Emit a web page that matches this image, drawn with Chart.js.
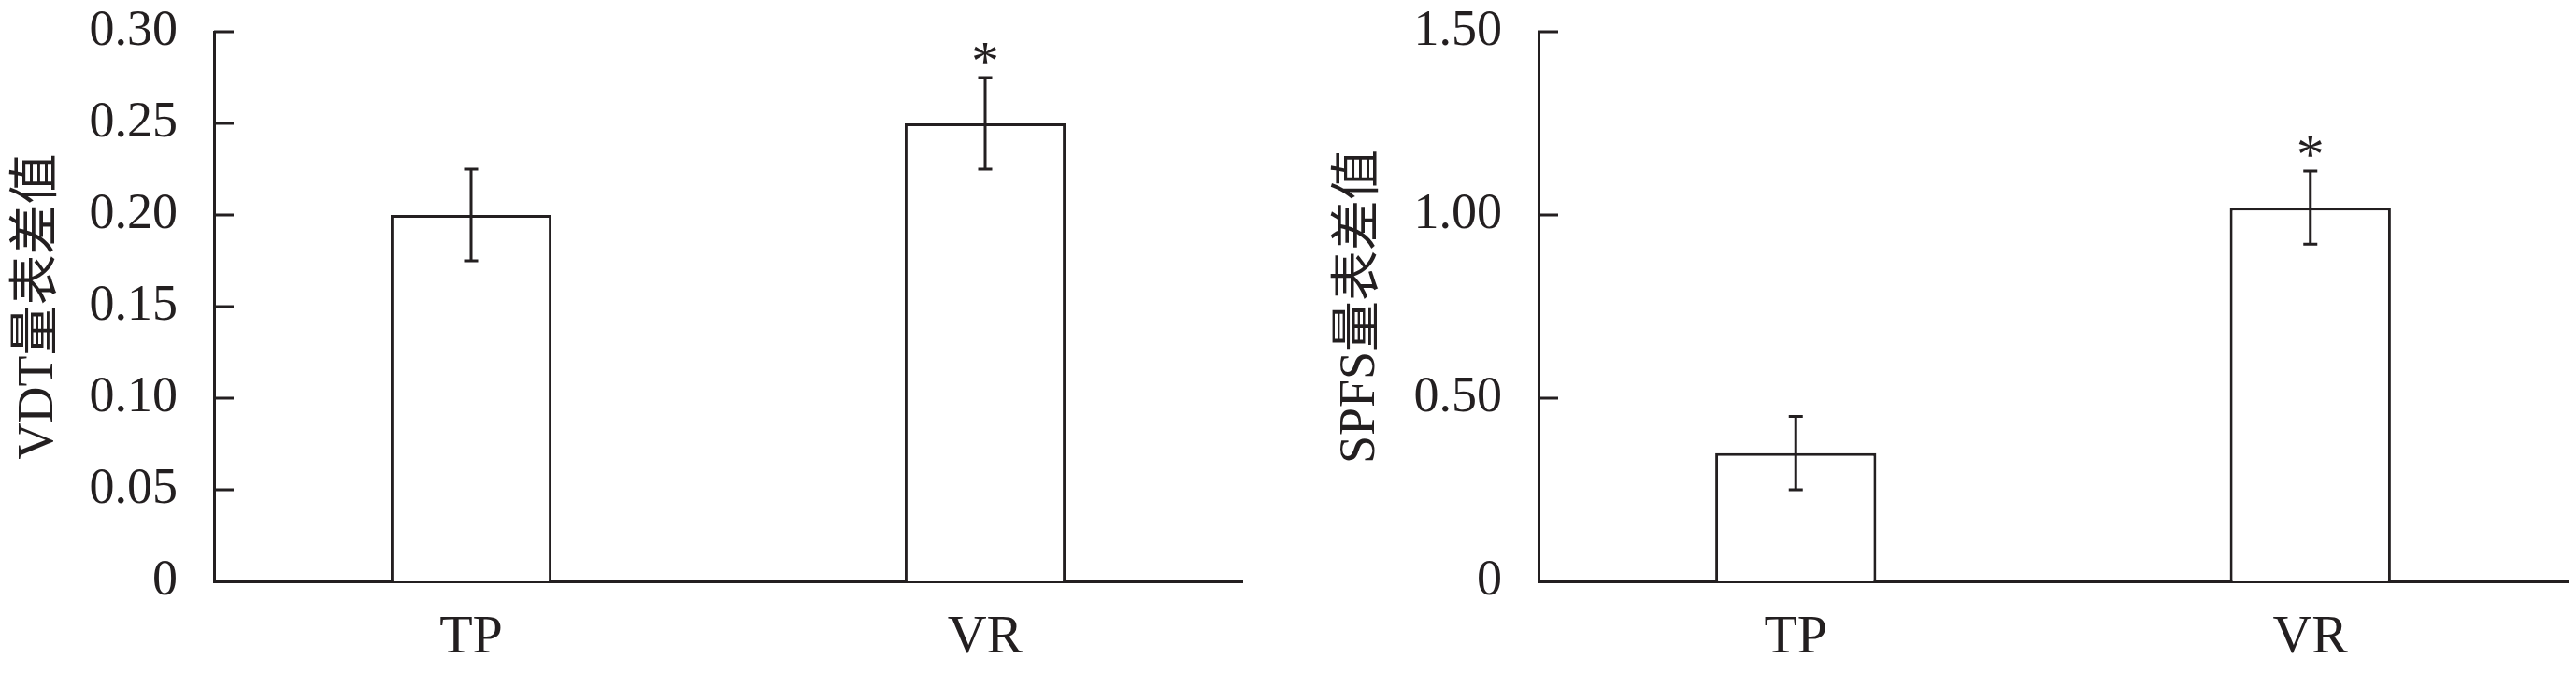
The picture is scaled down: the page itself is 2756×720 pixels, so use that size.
<!DOCTYPE html>
<html>
<head>
<meta charset="utf-8">
<script src="https://cdn.jsdelivr.net/npm/chart.js@4"></script>
<style>
  html, body { margin: 0; padding: 0; background: #fff; }
  #wrap { position: relative; width: 2756px; height: 720px; }
  .panel { position: absolute; top: 0; height: 720px; }
  #left { left: 0; width: 1378px; }
  #right { left: 1378px; width: 1378px; }
</style>
</head>
<body>
<div id="wrap">
  <div class="panel" id="left"><canvas id="vdtChart" width="1378" height="720"></canvas></div>
  <div class="panel" id="right"><canvas id="spfsChart" width="1378" height="720"></canvas></div>
</div>
<script>
// ---------- DATA ----------
const categories = ["TP", "VR"];

const vdtMeans = [0.20, 0.25];
const vdtErrors = [0.025, 0.025];
const vdtMarks = ["", "*"];

const spfsMeans = [0.35, 1.02];
const spfsErrors = [0.10, 0.10];
const spfsMarks = ["", "*"];

const INK = "#231f20";
const FONT = "'Liberation Serif', 'Noto Sans CJK SC', serif";
const LINE = 3;

// ---------- PLUGINS ----------
// ticks on the y axis point into the plot area
const innerTicks = {
  id: "innerTicks",
  afterDatasetsDraw(chart) {
    const { ctx, chartArea, scales } = chart;
    const y = scales.y;
    ctx.save();
    ctx.strokeStyle = INK;
    ctx.lineWidth = LINE;
    y.ticks.forEach((t, i) => {
      const py = y.getPixelForTick(i);
      ctx.beginPath();
      ctx.moveTo(chartArea.left, py);
      ctx.lineTo(chartArea.left + 21, py);
      ctx.stroke();
    });
    ctx.restore();
  }
};

// error bars + significance marks
const errorBars = {
  id: "errorBars",
  afterDatasetsDraw(chart, args, opts) {
    const { ctx, scales } = chart;
    const meta = chart.getDatasetMeta(0);
    const means = chart.data.datasets[0].data;
    ctx.save();
    ctx.strokeStyle = INK;
    ctx.fillStyle = INK;
    ctx.lineWidth = LINE;
    meta.data.forEach((bar, i) => {
      const x = bar.x;
      const top = scales.y.getPixelForValue(means[i] + opts.errors[i]);
      const bot = scales.y.getPixelForValue(means[i] - opts.errors[i]);
      ctx.beginPath();
      ctx.moveTo(x, top); ctx.lineTo(x, bot);
      ctx.moveTo(x - 7.5, top); ctx.lineTo(x + 7.5, top);
      ctx.moveTo(x - 7.5, bot); ctx.lineTo(x + 7.5, bot);
      ctx.stroke();
      if (opts.marks[i]) {
        ctx.font = "60px " + FONT;
        ctx.textAlign = "center";
        ctx.textBaseline = "alphabetic";
        ctx.fillText(opts.marks[i], x, top + 2);
      }
    });
    ctx.restore();
  }
};

// ---------- GRAFICOS ----------
function makeChart(id, title, means, errors, marks, max, step, yWidth, titlePad, rightPad) {
  return new Chart(document.getElementById(id), {
    type: "bar",
    data: {
      labels: categories,
      datasets: [{
        data: means,
        backgroundColor: "#ffffff",
        borderColor: INK,
        borderWidth: LINE,
        categoryPercentage: 1,
        barPercentage: 0.313
      }]
    },
    options: {
      responsive: false,
      animation: false,
      devicePixelRatio: 1,
      layout: { padding: { top: 34, right: rightPad, left: 0, bottom: 0 } },
      plugins: {
        legend: { display: false },
        tooltip: { enabled: false },
        errorBars: { errors: errors, marks: marks }
      },
      scales: {
        x: {
          grid: { display: false, drawTicks: false },
          border: { display: true, color: INK, width: LINE },
          ticks: { color: INK, font: { family: FONT, size: 58 }, padding: 26 },
          afterFit: s => { s.height = 98; s.paddingLeft = 0; s.paddingRight = 0; }
        },
        y: {
          min: 0, max: max,
          grid: { display: false, drawTicks: false },
          border: { display: true, color: INK, width: LINE },
          ticks: {
            stepSize: step,
            color: INK,
            padding: 39,
            font: { family: FONT, size: 54 },
            callback: v => v === 0 ? "0" : Number(v).toFixed(2)
          },
          title: {
            display: true,
            text: title,
            color: INK,
            font: { family: FONT, size: 54 },
            padding: { top: titlePad, bottom: 0 }
          },
          afterFit: s => { s.width = yWidth; s.paddingTop = 0; s.paddingBottom = 0; }
        }
      }
    },
    plugins: [innerTicks, errorBars]
  });
}

makeChart("vdtChart", "VDT量表差值", vdtMeans, vdtErrors, vdtMarks, 0.30, 0.05, 229, 9, 49);
makeChart("spfsChart", "SPFS量表差值", spfsMeans, spfsErrors, spfsMarks, 1.50, 0.50, 268, 45, 9);
</script>
</body>
</html>
